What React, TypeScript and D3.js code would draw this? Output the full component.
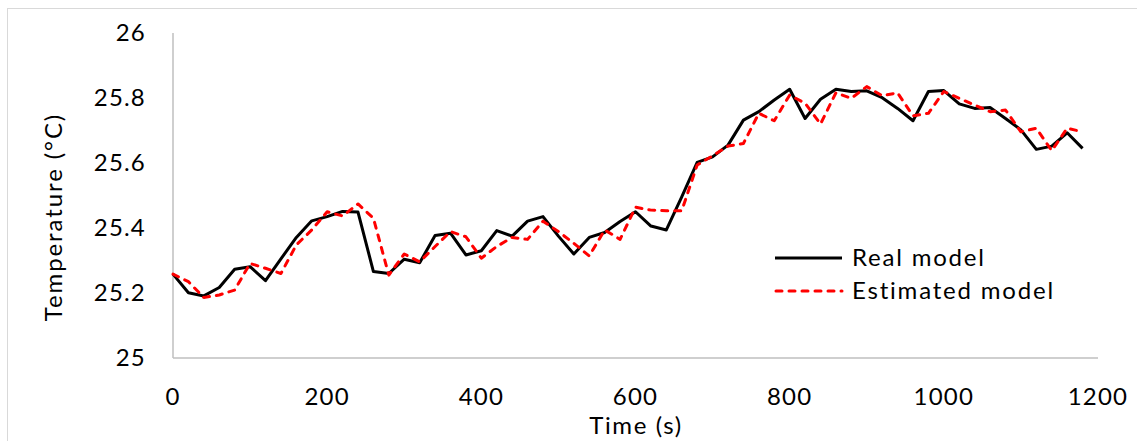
import React from "react";
import * as d3 from "d3";

const times: number[] = d3.range(0, 1200, 20);

const realModel: number[] = [
  25.258, 25.201, 25.191, 25.217, 25.273, 25.281, 25.238, 25.305, 25.371, 25.422,
  25.435, 25.451, 25.449, 25.266, 25.260, 25.304, 25.293, 25.377, 25.384, 25.317,
  25.330, 25.392, 25.375, 25.421, 25.435, 25.375, 25.320, 25.371, 25.386, 25.420,
  25.450, 25.406, 25.394, 25.496, 25.602, 25.619, 25.655, 25.732, 25.758, 25.794,
  25.827, 25.737, 25.796, 25.827, 25.820, 25.822, 25.801, 25.768, 25.730, 25.820,
  25.823, 25.782, 25.768, 25.771, 25.737, 25.702, 25.642, 25.652, 25.693, 25.645,
];

const estimatedModel: number[] = [
  25.258, 25.235, 25.186, 25.194, 25.209, 25.291, 25.276, 25.260, 25.348, 25.394,
  25.450, 25.437, 25.474, 25.430, 25.255, 25.320, 25.296, 25.343, 25.389, 25.373,
  25.307, 25.343, 25.371, 25.365, 25.421, 25.389, 25.353, 25.314, 25.394, 25.365,
  25.464, 25.455, 25.453, 25.453, 25.594, 25.622, 25.652, 25.660, 25.753, 25.730,
  25.809, 25.784, 25.720, 25.816, 25.799, 25.835, 25.807, 25.816, 25.745, 25.753,
  25.820, 25.799, 25.778, 25.758, 25.763, 25.696, 25.707, 25.638, 25.707, 25.696,
];

const xTicks: number[] = [0, 200, 400, 600, 800, 1000, 1200];
const yTicks: number[] = [25, 25.2, 25.4, 25.6, 25.8, 26];
const seriesNames: string[] = ["Real model", "Estimated model"];

const W = 1137;
const H = 441;
const FONT = "Lato, 'Open Sans', sans-serif";

export default function App() {
  const x = d3.scaleLinear().domain([0, 1200]).range([173, 1098]);
  const y = d3.scaleLinear().domain([25, 26]).range([358, 33]);

  const line = d3
    .line<number>()
    .x((_, i) => x(times[i]))
    .y((d) => y(d));

  const fmt = (v: number) => (Number.isInteger(v) ? String(v) : v.toFixed(1));

  return (
    <svg
      width={W}
      height={H}
      style={{ position: "absolute", left: 0, top: 0, background: "#fff" }}
      fontFamily={FONT}
    >
      <rect x={7.5} y={8.5} width={W} height={H} fill="#fff" stroke="#d9d9d9" strokeWidth={1} />

      {/* axes */}
      <line x1={x(0)} x2={x(0)} y1={y(26)} y2={y(25)} stroke="#bfbfbf" strokeWidth={1.5} />
      <line x1={x(0)} x2={x(1200)} y1={y(25)} y2={y(25)} stroke="#bfbfbf" strokeWidth={1.5} />

      {yTicks.map((t) => (
        <text key={"y" + t} x={146} y={y(t)} dy="0.35em" textAnchor="end" fontSize={24} letterSpacing={1.2} fill="#000">
          {fmt(t)}
        </text>
      ))}
      {xTicks.map((t) => (
        <text key={"x" + t} x={x(t)} y={405} textAnchor="middle" fontSize={24} letterSpacing={1.2} fill="#000">
          {t}
        </text>
      ))}

      <text x={636} y={434} textAnchor="middle" fontSize={24} letterSpacing={1.6} fill="#000">
        Time (s)
      </text>
      <text
        transform={`translate(62,217) rotate(-90)`}
        textAnchor="middle"
        fontSize={24}
        letterSpacing={1.9}
        fill="#000"
      >
        Temperature (°C)
      </text>

      <path d={line(realModel) || ""} fill="none" stroke="#000" strokeWidth={3} strokeLinejoin="round" />
      <path
        d={line(estimatedModel) || ""}
        fill="none"
        stroke="#ff0000"
        strokeWidth={3}
        strokeDasharray="6,7"
        strokeLinecap="round"
        strokeLinejoin="round"
      />

      {/* legend */}
      <line x1={775} x2={842} y1={258} y2={258} stroke="#000" strokeWidth={3} />
      <text x={852} y={258} dy="0.35em" fontSize={24} letterSpacing={1.8} fill="#000">
        {seriesNames[0]}
      </text>
      <line
        x1={776}
        x2={842}
        y1={291}
        y2={291}
        stroke="#ff0000"
        strokeWidth={3}
        strokeDasharray="6,7"
        strokeLinecap="round"
      />
      <text x={852} y={291} dy="0.35em" fontSize={24} letterSpacing={1.8} fill="#000">
        {seriesNames[1]}
      </text>
    </svg>
  );
}
